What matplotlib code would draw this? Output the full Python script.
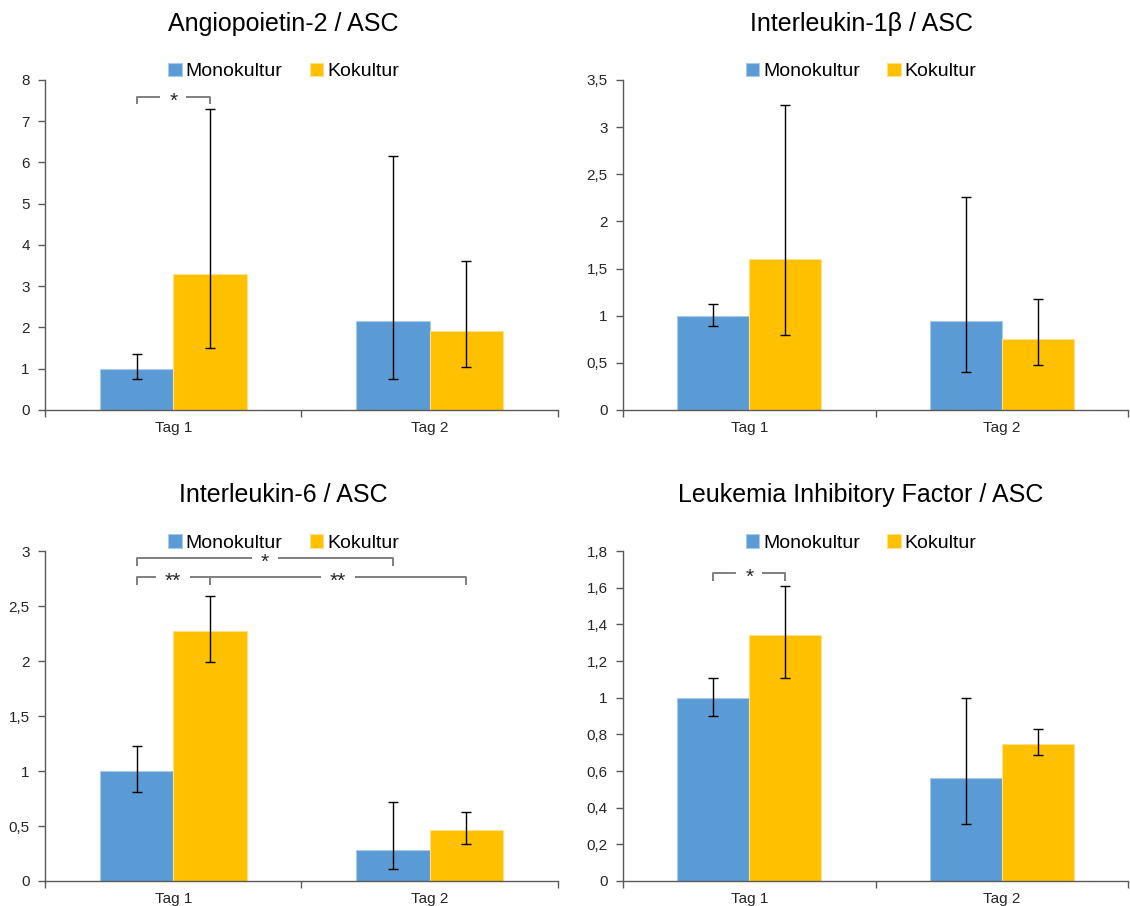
#! /usr/bin/env python3
import matplotlib
matplotlib.use("Agg")
import matplotlib.pyplot as plt
import numpy as np
from matplotlib.ticker import FuncFormatter, MultipleLocator

plt.rcParams["font.family"] = ["Liberation Sans", "DejaVu Sans"]

categories = ["Tag 1", "Tag 2"]
series_names = ["Monokultur", "Kokultur"]

# Angiopoietin-2
ang2_mono = [1.0, 2.15]
ang2_mono_lo = [0.75, 0.75]
ang2_mono_hi = [1.35, 6.15]
ang2_ko = [3.3, 1.92]
ang2_ko_lo = [1.5, 1.03]
ang2_ko_hi = [7.3, 3.6]

# Interleukin-1b
il1b_mono = [1.0, 0.94]
il1b_mono_lo = [0.89, 0.40]
il1b_mono_hi = [1.12, 2.26]
il1b_ko = [1.6, 0.75]
il1b_ko_lo = [0.80, 0.48]
il1b_ko_hi = [3.23, 1.18]

# Interleukin-6
il6_mono = [1.0, 0.28]
il6_mono_lo = [0.81, 0.11]
il6_mono_hi = [1.23, 0.72]
il6_ko = [2.27, 0.46]
il6_ko_lo = [1.99, 0.34]
il6_ko_hi = [2.59, 0.63]

# LIF
lif_mono = [1.0, 0.56]
lif_mono_lo = [0.90, 0.31]
lif_mono_hi = [1.11, 1.00]
lif_ko = [1.34, 0.75]
lif_ko_lo = [1.11, 0.69]
lif_ko_hi = [1.61, 0.83]

# significance brackets: (cat1, series1, cat2, series2, line_y, tick_end_y, label)
ang2_sig = [(0, 0, 0, 1, 7.59, 7.44, "*")]
il1b_sig = []
il6_sig = [(0, 0, 1, 0, 2.935, 2.87, "*"),
           (0, 0, 0, 1, 2.765, 2.70, "**"),
           (0, 1, 1, 1, 2.765, 2.70, "**")]
lif_sig = [(0, 0, 0, 1, 1.68, 1.64, "*")]

colors = ["#5B9BD5", "#FFC000"]
edges = ["#A9C9EA", "#FFE08A"]
axis_col = "#595959"
bw = 0.286
FIG_W = 1130


def comma_fmt(v, pos):
    s = ("%.2f" % v).rstrip("0").rstrip(".")
    return s.replace(".", ",")


def panel(fig, rect, title, title_x, title_y, mono, mono_lo, mono_hi,
          ko, ko_lo, ko_hi, ymax, ystep, sig):
    ax = fig.add_axes(rect)
    x = np.arange(len(categories))
    data = [(mono, mono_lo, mono_hi), (ko, ko_lo, ko_hi)]
    for i, (vals, lo, hi) in enumerate(data):
        xs = x + (i - 0.5) * bw
        vals = np.array(vals)
        err = [vals - np.array(lo), np.array(hi) - vals]
        ax.bar(xs, vals, bw, color=colors[i], edgecolor=edges[i],
               linewidth=0.8, label=series_names[i], zorder=2)
        ax.errorbar(xs, vals, yerr=err, fmt="none", ecolor="black",
                    elinewidth=1.0, capsize=3.5, capthick=1.0, zorder=3)

    # data units per pixel along x
    dpx = 2.0 / (rect[2] * FIG_W)
    for c1, s1, c2, s2, yl, yt, lab in sig:
        x1 = c1 + (s1 - 0.5) * bw
        x2 = c2 + (s2 - 0.5) * bw
        xm = (x1 + x2) / 2
        half = (14 if len(lab) == 1 else 18) * dpx
        ax.plot([x1, x1, xm - half], [yt, yl, yl], color="#7F7F7F",
                lw=1.4, zorder=4, clip_on=False)
        ax.plot([xm + half, x2, x2], [yl, yl, yt], color="#7F7F7F",
                lw=1.4, zorder=4, clip_on=False)
        ax.annotate(lab, xy=(xm, yl), xytext=(0, -3),
                    textcoords="offset points", ha="center", va="center",
                    fontsize=15, color="#262626", zorder=6)

    ax.set_xlim(-0.5, 1.5)
    ax.set_ylim(0, ymax)
    ax.yaxis.set_major_locator(MultipleLocator(ystep))
    ax.yaxis.set_major_formatter(FuncFormatter(comma_fmt))
    ax.set_xticks(x)
    ax.set_xticklabels(categories)
    ax.set_xticks([-0.5, 0.5, 1.5], minor=True)
    ax.tick_params(axis="x", which="major", length=0, pad=8,
                   labelsize=11, labelcolor="#262626")
    ax.tick_params(axis="x", which="minor", length=5, direction="out",
                   color=axis_col, width=1)
    ax.tick_params(axis="y", length=5, direction="out", color=axis_col,
                   width=1, labelsize=11, labelcolor="#262626", pad=6)
    for sp in ["top", "right"]:
        ax.spines[sp].set_visible(False)
    for sp in ["left", "bottom"]:
        ax.spines[sp].set_color(axis_col)
        ax.spines[sp].set_linewidth(1.0)

    fig.text(title_x, title_y, title, ha="center", va="center",
             fontsize=18, color="black")
    ax.legend(loc="lower center",
              bbox_to_anchor=(0.5 - (rect[0] + rect[2] / 2 - title_x) / rect[2], 0.975),
              ncol=2, frameon=False, fontsize=14, handlelength=0.7,
              handleheight=0.7, handletextpad=0.2, columnspacing=1.4,
              borderaxespad=0.0)
    return ax


fig = plt.figure(figsize=(11.3, 9.06), dpi=100)

panel(fig, [0.0398, 0.5475, 0.454, 0.3642], "Angiopoietin-2 / ASC",
      0.251, 0.974, ang2_mono, ang2_mono_lo, ang2_mono_hi,
      ang2_ko, ang2_ko_lo, ang2_ko_hi, 8, 1, ang2_sig)
panel(fig, [0.5513, 0.5475, 0.447, 0.3642], "Interleukin-1β / ASC",
      0.762, 0.974, il1b_mono, il1b_mono_lo, il1b_mono_hi,
      il1b_ko, il1b_ko_lo, il1b_ko_hi, 3.5, 0.5, il1b_sig)
panel(fig, [0.0398, 0.0276, 0.454, 0.3642], "Interleukin-6 / ASC",
      0.251, 0.454, il6_mono, il6_mono_lo, il6_mono_hi,
      il6_ko, il6_ko_lo, il6_ko_hi, 3, 0.5, il6_sig)
panel(fig, [0.5513, 0.0276, 0.447, 0.3642], "Leukemia Inhibitory Factor / ASC",
      0.762, 0.454, lif_mono, lif_mono_lo, lif_mono_hi,
      lif_ko, lif_ko_lo, lif_ko_hi, 1.8, 0.2, lif_sig)

fig.savefig("out.png", dpi=100)
